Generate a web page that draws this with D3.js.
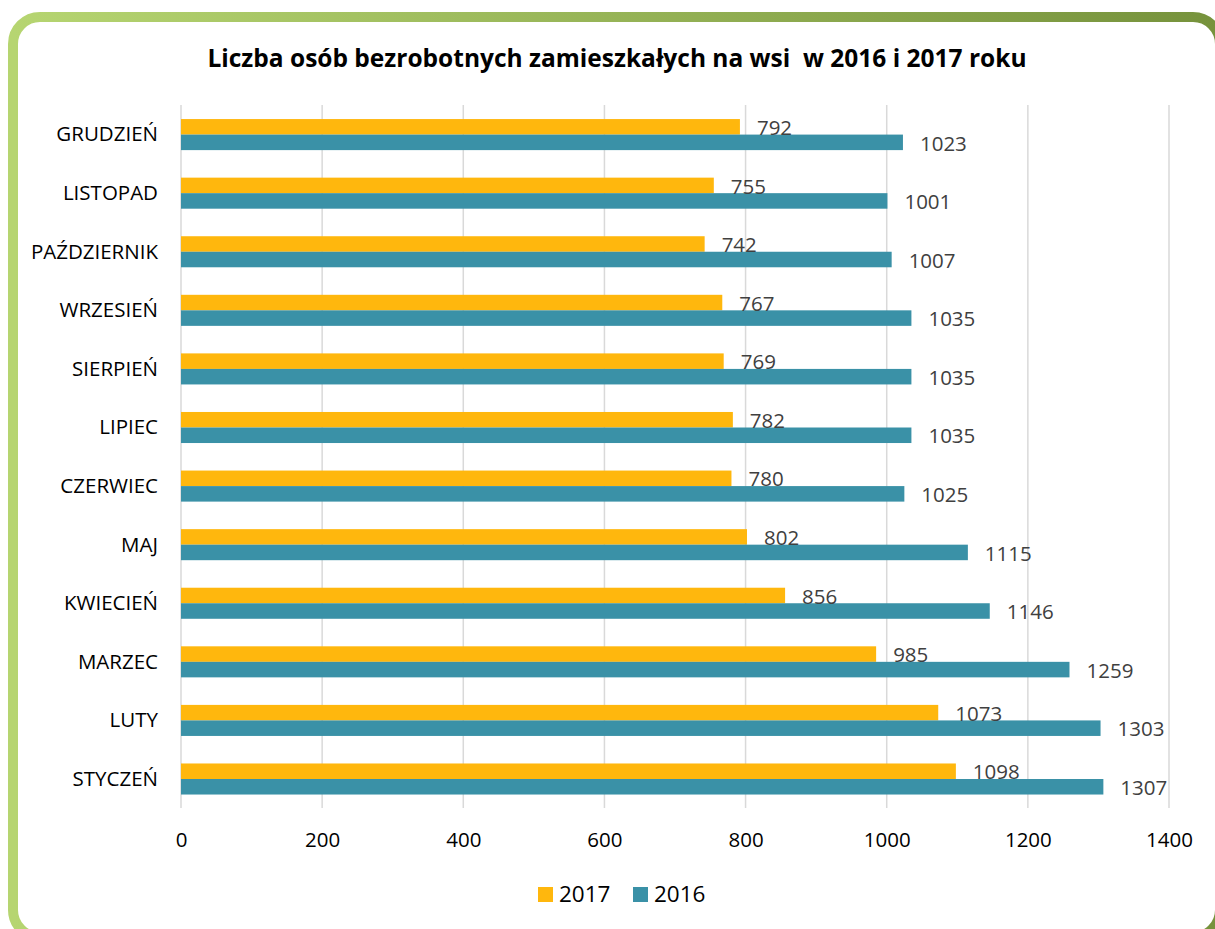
<!DOCTYPE html>
<html><head><meta charset="utf-8">
<script src="https://cdn.jsdelivr.net/npm/d3@7"></script>
<style>
html,body{margin:0;padding:0;background:#fff;}
svg{display:block;font-family:"Open Sans","Noto Sans",sans-serif;}
</style></head>
<body>
<svg id="chart" width="1215" height="929"></svg>
<script>
const categories = ["GRUDZIEŃ","LISTOPAD","PAŹDZIERNIK","WRZESIEŃ","SIERPIEŃ","LIPIEC","CZERWIEC","MAJ","KWIECIEŃ","MARZEC","LUTY","STYCZEŃ"];
const values2017 = [792,755,742,767,769,782,780,802,856,985,1073,1098];
const values2016 = [1023,1001,1007,1035,1035,1035,1025,1115,1146,1259,1303,1307];
const seriesNames = ["2017","2016"];
const xTicks = [0,200,400,600,800,1000,1200,1400];
const title = "Liczba osób bezrobotnych zamieszkałych na wsi  w 2016 i 2017 roku";

const colors = {"2017":"#FFB70D","2016":"#3A91A7"};
const svg = d3.select("#chart");

// border
const defs = svg.append("defs");
const grad = defs.append("linearGradient").attr("id","bg").attr("x1","0%").attr("x2","100%").attr("y1","0%").attr("y2","0%");
grad.append("stop").attr("offset","0%").attr("stop-color","#b6d571");
grad.append("stop").attr("offset","100%").attr("stop-color","#76923c");
svg.append("rect").attr("x",13).attr("y",17).attr("width",1207).attr("height",920)
  .attr("rx",27).attr("ry",27).attr("fill","#fff").attr("stroke","url(#bg)").attr("stroke-width",10);

// title
svg.append("text").attr("x",617).attr("y",67).attr("text-anchor","middle")
  .attr("font-weight","bold").attr("font-size",24.5).attr("fill","#000")
  .style("white-space","pre").attr("xml:space","preserve").text(title);

const x = d3.scaleLinear().domain([0,1400]).range([181,1169]);
const y = d3.scaleBand().domain(categories).range([105,808]).padding(0);
const ys = d3.scaleBand().domain(seriesNames).range([y.bandwidth()*0.24, y.bandwidth()*0.77]).padding(0);

// gridlines
svg.append("g").selectAll("line").data(xTicks).join("line")
  .attr("x1",d=>x(d)).attr("x2",d=>x(d)).attr("y1",105).attr("y2",808)
  .attr("stroke","#d9d9d9").attr("stroke-width",1.5);

// x tick labels
const xAxis = d3.axisBottom(x).tickValues(xTicks).tickFormat(d3.format("d")).tickSize(0).tickPadding(0);
const gx = svg.append("g").attr("transform","translate(0,832)").call(xAxis);
gx.select(".domain").remove();
gx.selectAll("text").attr("font-size",20.5).attr("fill","#000").attr("font-family","'Open Sans',sans-serif").attr("dy","0.71em");

// y labels
const yAxis = d3.axisLeft(y).tickSize(0).tickPadding(0);
const gy = svg.append("g").attr("transform","translate(158,0)").call(yAxis);
gy.select(".domain").remove();
gy.selectAll("text").attr("font-size",20.5).attr("fill","#000").attr("font-family","'Open Sans',sans-serif").attr("dy","0.35em");

// bars
const data = categories.map((c,i)=>({c, vals:[{s:"2017",v:values2017[i]},{s:"2016",v:values2016[i]}]}));
const groups = svg.append("g").selectAll("g").data(data).join("g")
  .attr("transform",d=>`translate(0,${y(d.c)})`);
groups.selectAll("rect").data(d=>d.vals).join("rect")
  .attr("x",x(0)).attr("y",d=>ys(d.s)).attr("height",ys.bandwidth())
  .attr("width",d=>x(d.v)-x(0)).attr("fill",d=>colors[d.s]);
groups.selectAll("text.lbl").data(d=>d.vals).join("text").attr("class","lbl")
  .attr("x",d=>x(d.v)+17).attr("y",d=>ys(d.s)+ys.bandwidth()/2+1)
  .attr("dy","0.35em").attr("font-size",20.5).attr("fill","#404040").text(d=>d.v);

// legend
const leg = svg.append("g");
const legItems = [{s:"2017",x:538},{s:"2016",x:633}];
leg.selectAll("rect").data(legItems).join("rect")
  .attr("x",d=>d.x).attr("y",887).attr("width",15).attr("height",15).attr("fill",d=>colors[d.s]);
leg.selectAll("text").data(legItems).join("text")
  .attr("x",d=>d.x+21).attr("y",902).attr("font-size",22.5).attr("fill","#000").text(d=>d.s);
</script>
</body></html>
